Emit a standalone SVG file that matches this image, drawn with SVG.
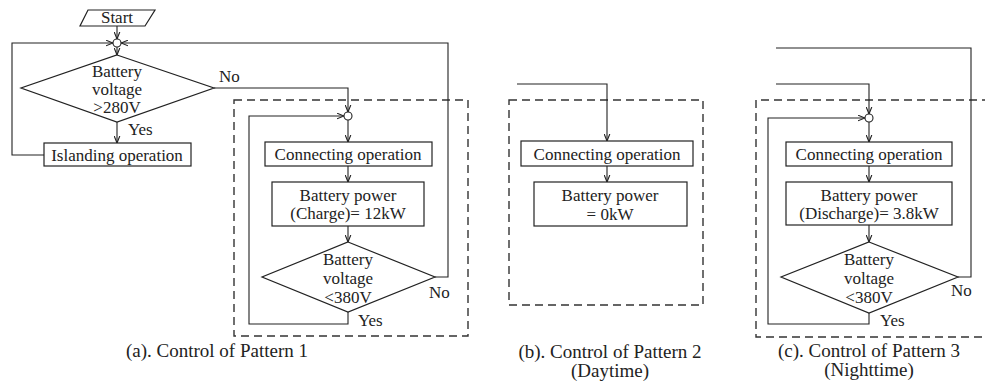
<svg xmlns="http://www.w3.org/2000/svg" width="985" height="381" viewBox="0 0 985 381" font-family="Liberation Serif, serif">
  <style>
    .box { fill: #fff; stroke: #222; stroke-width: 1.2; }
    .ln { fill: none; stroke: #222; stroke-width: 1.1; }
    .arr { fill: none; stroke: #222; stroke-width: 1.1; marker-end: url(#ah); }
    .dash { fill: none; stroke: #333; stroke-width: 1.4; stroke-dasharray: 8 5; }
    .jn { fill: #fff; stroke: #222; stroke-width: 1.1; }
    text { font-family: 'Liberation Serif', 'DejaVu Serif', serif; font-size: 17px; fill: #222; }
    .c { text-anchor: middle; }
    .cap { font-size: 19px; text-anchor: middle; }
  </style>
  <defs>
    <marker id="ah" viewBox="0 0 10 10" refX="10" refY="5" markerWidth="7" markerHeight="7" markerUnits="userSpaceOnUse" orient="auto">
      <path d="M0,1 L10,5 L0,9" fill="none" stroke="#222" stroke-width="1.6"/>
    </marker>
  </defs>

  <!-- dashed pattern frames -->
  <g id="frames">
    <rect class="dash" x="234" y="100" width="234" height="236"/>
    <rect class="dash" x="509" y="100" width="194" height="205"/>
    <path class="dash" d="M990,100 H756 V337 H990"/>
  </g>

  <!-- connectors -->
  <g id="connectors">
    <!-- pattern (a) -->
    <line class="arr" x1="117" y1="26" x2="117" y2="39"/>
    <path class="arr" d="M44,155 H12 V43 H113"/>
    <path class="arr" d="M435,277 H448 V43 H121"/>
    <line class="arr" x1="117" y1="47" x2="117" y2="55"/>
    <line class="arr" x1="117" y1="122" x2="117" y2="143"/>
    <path class="arr" d="M214,88 H348 V112"/>
    <path class="arr" d="M348,312 V324 H249 V116 H344"/>
    <line class="arr" x1="348" y1="120" x2="348" y2="142"/>
    <line class="arr" x1="348" y1="166" x2="348" y2="182"/>
    <line class="arr" x1="348" y1="226" x2="348" y2="242"/>
    <!-- pattern (b) -->
    <path class="arr" d="M517,84 H607 V141"/>
    <line class="arr" x1="607" y1="166" x2="607" y2="182"/>
    <!-- pattern (c) -->
    <path class="ln" d="M776,48 H971 V277 H958"/>
    <path class="arr" d="M776,84 H869 V114"/>
    <path class="arr" d="M869,313 V324 H768 V118 H865"/>
    <line class="arr" x1="869" y1="122" x2="869" y2="142"/>
    <line class="arr" x1="869" y1="166" x2="869" y2="182"/>
    <line class="arr" x1="869" y1="225" x2="869" y2="242"/>
  </g>

  <!-- pattern (a) nodes -->
  <g id="start">
    <polygon class="box" points="88,10 155,10 145,26 80,26"/>
    <text class="c" x="117" y="23">Start</text>
  </g>
  <g id="junction-a1"><circle class="jn" cx="117" cy="43" r="4"/></g>
  <g id="check-280">
    <polygon class="box" points="117,55 214,88 117,122 21,88"/>
    <text class="c" x="117" y="77">Battery</text>
    <text class="c" x="117" y="95">voltage</text>
    <text class="c" x="117" y="113">&gt;280V</text>
  </g>
  <g id="islanding">
    <rect class="box" x="44" y="143" width="147" height="23"/>
    <text class="c" x="117" y="161">Islanding operation</text>
  </g>
  <g id="junction-a2"><circle class="jn" cx="348" cy="116" r="4"/></g>
  <g id="connect-a">
    <rect class="box" x="265" y="142" width="167" height="24"/>
    <text class="c" x="348" y="160">Connecting operation</text>
  </g>
  <g id="power-a">
    <rect class="box" x="272" y="182" width="152" height="44"/>
    <text class="c" x="348" y="201">Battery power</text>
    <text class="c" x="348" y="219">(Charge)= 12kW</text>
  </g>
  <g id="check-380-a">
    <polygon class="box" points="348,242 435,277 348,312 262,277"/>
    <text class="c" x="348" y="265">Battery</text>
    <text class="c" x="348" y="284">voltage</text>
    <text class="c" x="348" y="303">&lt;380V</text>
  </g>

  <!-- pattern (b) nodes -->
  <g id="connect-b">
    <rect class="box" x="521" y="141" width="172" height="25"/>
    <text class="c" x="607" y="160">Connecting operation</text>
  </g>
  <g id="power-b">
    <rect class="box" x="534" y="182" width="153" height="44"/>
    <text class="c" x="610" y="201">Battery power</text>
    <text class="c" x="610" y="220">= 0kW</text>
  </g>

  <!-- pattern (c) nodes -->
  <g id="junction-c"><circle class="jn" cx="869" cy="118" r="4"/></g>
  <g id="connect-c">
    <rect class="box" x="786" y="142" width="166" height="24"/>
    <text class="c" x="869" y="160">Connecting operation</text>
  </g>
  <g id="power-c">
    <rect class="box" x="786" y="182" width="166" height="43"/>
    <text class="c" x="869" y="201">Battery power</text>
    <text class="c" x="869" y="219">(Discharge)= 3.8kW</text>
  </g>
  <g id="check-380-c">
    <polygon class="box" points="869,242 958,277 869,313 781,277"/>
    <text class="c" x="869" y="265">Battery</text>
    <text class="c" x="869" y="284">voltage</text>
    <text class="c" x="869" y="303">&lt;380V</text>
  </g>

  <!-- branch labels -->
  <g id="labels">
    <text x="128" y="135">Yes</text>
    <text x="219" y="82">No</text>
    <text x="358" y="326">Yes</text>
    <text x="429" y="298">No</text>
    <text x="880" y="326">Yes</text>
    <text x="951" y="296">No</text>
  </g>

  <!-- captions -->
  <g id="captions">
    <text class="cap" x="217" y="357">(a). Control of Pattern 1</text>
    <text class="cap" x="610" y="358">(b). Control of Pattern 2</text>
    <text class="cap" x="610" y="377">(Daytime)</text>
    <text class="cap" x="869" y="357">(c). Control of Pattern 3</text>
    <text class="cap" x="869" y="376">(Nighttime)</text>
  </g>
</svg>
